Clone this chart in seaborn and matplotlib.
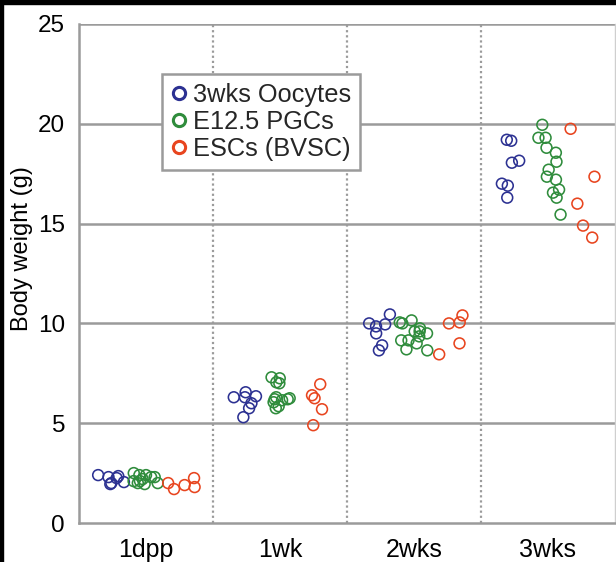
import numpy as np
import pandas as pd
import matplotlib
matplotlib.use("Agg")
import matplotlib.pyplot as plt
from matplotlib.lines import Line2D
from matplotlib.patches import Rectangle
import seaborn as sns

# body weight (g) per group and age
stages = ["1dpp", "1wk", "2wks", "3wks"]
groups = ["3wks Oocytes", "E12.5 PGCs", "ESCs (BVSC)"]

oocytes = {
    "1dpp": [2.4, 2.35, 2.3, 2.25, 2.05, 2.0, 1.95],
    "1wk": [6.55, 6.35, 6.3, 6.3, 6.0, 5.75, 5.3],
    "2wks": [10.45, 10.0, 9.95, 9.85, 9.5, 8.9, 8.65],
    "3wks": [19.2, 19.15, 18.15, 18.05, 17.0, 16.9, 16.3],
}
pgcs = {
    "1dpp": [2.5, 2.4, 2.4, 2.3, 2.3, 2.2, 2.1, 2.1, 2.0, 2.0, 1.95],
    "1wk": [7.3, 7.25, 7.05, 7.0, 6.3, 6.25, 6.2, 6.2, 6.15, 6.05, 5.85, 5.75],
    "2wks": [10.15, 10.05, 10.0, 9.75, 9.6, 9.6, 9.5, 9.35, 9.15, 9.15, 9.0, 8.7, 8.65],
    "3wks": [19.95, 19.3, 19.3, 18.8, 18.55, 18.1, 17.7, 17.35, 17.2, 16.7, 16.55, 16.3, 15.45],
}
escs = {
    "1dpp": [2.25, 2.0, 1.9, 1.8, 1.7],
    "1wk": [6.95, 6.4, 6.25, 5.7, 4.9],
    "2wks": [10.4, 10.05, 10.0, 9.0, 8.45],
    "3wks": [19.75, 17.35, 16.0, 14.9, 14.3],
}

colors = ["#2c3192", "#2f8c3c", "#e8451f"]
yticks = [0, 5, 10, 15, 20, 25]

rows = []
for name, values in zip(groups, [oocytes, pgcs, escs]):
    for stage in stages:
        for v in values[stage]:
            rows.append({"stage": stage, "group": name, "weight": v})
df = pd.DataFrame(rows)

sns.set_theme(style="white")
plt.rcParams["font.family"] = ["Liberation Sans", "DejaVu Sans"]

fig = plt.figure(figsize=(6.16, 5.62), dpi=100)
ax = fig.add_axes([79 / 616, 39 / 562, 536 / 616, 499 / 562])

np.random.seed(7)
sns.stripplot(data=df, x="stage", y="weight", hue="group", order=stages,
              hue_order=groups, palette=dict(zip(groups, colors)), dodge=True,
              jitter=0.32, size=7.8, linewidth=1.15, legend=False, ax=ax, zorder=3)

# open circles
for coll in ax.collections:
    fc = coll.get_facecolors()
    coll.set_edgecolors(fc)
    coll.set_facecolors("none")

grid_gray = "#9b9b9b"
for y in yticks[1:]:
    ax.axhline(y, color=grid_gray, lw=1.8, zorder=1)
for x in [0.5, 1.5, 2.5]:
    ax.axvline(x, color=grid_gray, lw=1.6, ls=(0, (1, 1.3)), zorder=1)

ax.set_xlim(-0.5, 3.5)
ax.set_ylim(0, 25)
ax.set_yticks(yticks)
ax.set_xlabel("")
ax.set_ylabel("Body weight (g)", fontsize=17, color="black")
ax.yaxis.set_label_coords(-0.085, 0.55)
ax.tick_params(axis="y", length=0, pad=10, labelsize=17.5, labelcolor="black")
ax.tick_params(axis="x", length=0, pad=11, labelsize=18, labelcolor="black")

ax.spines["top"].set_visible(False)
ax.spines["left"].set_color(grid_gray)
ax.spines["left"].set_linewidth(1.8)
ax.spines["bottom"].set_color(grid_gray)
ax.spines["bottom"].set_linewidth(1.8)
ax.spines["right"].set_color("#cfcfcf")
ax.spines["right"].set_linewidth(1.0)

handles = [Line2D([], [], ls="", marker="o", ms=8.8, mfc="none", mec=c, mew=2.2)
           for c in colors]
leg = ax.legend(handles, groups, loc="upper left", bbox_to_anchor=(0.155, 0.9),
                borderaxespad=0, fontsize=18.3, handlelength=0.6, handletextpad=0.25,
                labelspacing=0.12, borderpad=0.35, fancybox=False, framealpha=1)
leg.get_frame().set_edgecolor(grid_gray)
leg.get_frame().set_linewidth(1.8)
leg.set_zorder(5)

# black strips along the top and left edge of the scan
fig.patches.append(Rectangle((0, 1 - 4 / 562), 1, 4 / 562, transform=fig.transFigure,
                             color="black", zorder=10))
fig.patches.append(Rectangle((0, 0), 3 / 616, 1, transform=fig.transFigure,
                             color="black", zorder=10))

fig.savefig("out.png", dpi=100)
